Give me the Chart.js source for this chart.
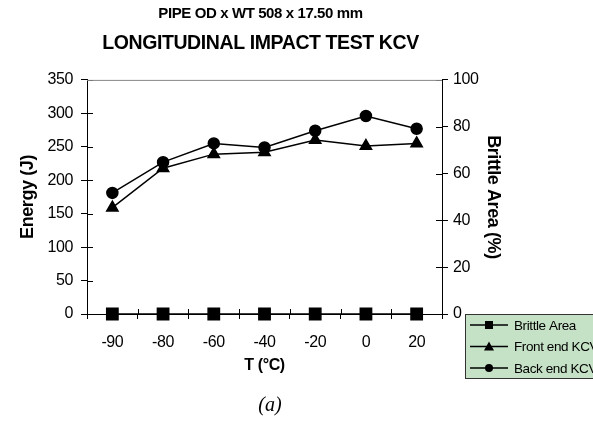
<!DOCTYPE html>
<html>
<head>
<meta charset="utf-8">
<script src="https://cdn.jsdelivr.net/npm/chart.js"></script>
<style>
  body { margin: 0; background: #fff; }
  #wrap { width: 593px; height: 421px; }
</style>
</head>
<body>
<div id="wrap"><canvas id="chart" width="593" height="421"></canvas></div>
<script>
var temps = ['-90', '-80', '-60', '-40', '-20', '0', '20'];
var brittleArea = [0, 0, 0, 0, 0, 0, 0];
var frontKCV = [159, 218, 239, 242, 260, 251, 255];
var backKCV = [181, 227, 255, 249, 274, 296, 277];

var titleTop = 'PIPE OD x WT 508 x 17.50 mm';
var titleMain = 'LONGITUDINAL IMPACT TEST KCV';
var caption = '(a)';

Chart.defaults.font.family = "'Liberation Sans', Arial, sans-serif";
Chart.defaults.color = '#000';

// tick marks that cross into the plot, a grey top border, the legend box and the caption
var extras = {
  id: 'extras',
  beforeDraw: function(chart) {
    // the original text is set a little tighter than Arial
    chart.ctx.letterSpacing = '-0.4px';
  },
  afterDraw: function(chart) {
    var ctx = chart.ctx;
    var a = chart.chartArea;
    var s = chart.scales;
    ctx.save();
    ctx.strokeStyle = '#000';
    ctx.lineWidth = 1;
    ctx.beginPath();
    s.y.ticks.forEach(function(t, i) {
      var py = Math.round(s.y.getPixelForTick(i)) + 0.5;
      ctx.moveTo(a.left, py); ctx.lineTo(a.left + 6, py);
    });
    s.y1.ticks.forEach(function(t, i) {
      var py = Math.round(s.y1.getPixelForTick(i)) + 0.5;
      ctx.moveTo(a.right - 6, py); ctx.lineTo(a.right, py);
    });
    for (var i = 0; i <= temps.length; i++) {
      var px = Math.round(a.left + (a.right - a.left) * i / temps.length) + 0.5;
      ctx.moveTo(px, a.bottom - 5); ctx.lineTo(px, a.bottom);
    }
    ctx.stroke();

    ctx.strokeStyle = '#888';
    ctx.beginPath();
    ctx.moveTo(a.left, a.top + 0.5); ctx.lineTo(a.right, a.top + 0.5);
    ctx.stroke();

    // legend
    var lx = 465.5, ly = 314.5;
    ctx.fillStyle = '#c6e2c6';
    ctx.fillRect(lx, ly, 140, 64);
    ctx.strokeStyle = '#333';
    ctx.strokeRect(lx, ly, 140, 64);
    chart.data.datasets.forEach(function(ds, k) {
      var yy = 325 + k * 21.5;
      ctx.strokeStyle = '#000';
      ctx.lineWidth = 1.5;
      ctx.beginPath();
      ctx.moveTo(470, yy); ctx.lineTo(508, yy);
      ctx.stroke();
      ctx.fillStyle = '#000';
      ctx.beginPath();
      if (ds.pointStyle === 'rect') {
        ctx.rect(485, yy - 4, 8, 8);
      } else if (ds.pointStyle === 'triangle') {
        ctx.moveTo(489, yy - 5); ctx.lineTo(494, yy + 4); ctx.lineTo(484, yy + 4); ctx.closePath();
      } else {
        ctx.arc(489, yy, 4, 0, Math.PI * 2);
      }
      ctx.fill();
      ctx.font = "13.5px 'Liberation Sans', Arial, sans-serif";
      ctx.textBaseline = 'middle';
      ctx.textAlign = 'left';
      ctx.fillText(ds.label, 514, yy + 1);
    });

    ctx.letterSpacing = '0px';
    ctx.font = "italic 20px 'Liberation Serif', 'Times New Roman', serif";
    ctx.textAlign = 'center';
    ctx.textBaseline = 'middle';
    ctx.fillText(caption, 270, 406);
    ctx.restore();
  }
};

var config = {
  type: 'line',
  data: {
    labels: temps,
    datasets: [{
      label: 'Brittle Area',
      data: brittleArea,
      yAxisID: 'y1',
      borderColor: '#000',
      backgroundColor: '#000',
      borderWidth: 1.5,
      pointStyle: 'rect',
      pointRadius: 8,
      clip: false
    }, {
      label: 'Front end KCV',
      data: frontKCV,
      yAxisID: 'y',
      borderColor: '#000',
      backgroundColor: '#000',
      borderWidth: 1.5,
      pointStyle: 'triangle',
      pointRadius: 6.5,
      clip: false
    }, {
      label: 'Back end KCV',
      data: backKCV,
      yAxisID: 'y',
      borderColor: '#000',
      backgroundColor: '#000',
      borderWidth: 1.5,
      pointStyle: 'circle',
      pointRadius: 5.5,
      clip: false
    }]
  },
  options: {
    responsive: false,
    animation: false,
    devicePixelRatio: 1,
    layout: { padding: { left: 17, right: 89, top: 0, bottom: 46 } },
    plugins: {
      legend: { display: false },
      tooltip: { enabled: false },
      title: {
        display: true,
        text: titleTop,
        font: { size: 15, weight: 'bold' },
        padding: { top: 5, bottom: 2 }
      },
      subtitle: {
        display: true,
        text: titleMain,
        color: '#000',
        font: { size: 19.5, weight: 'bold' },
        padding: { top: 7, bottom: 24.5 }
      }
    },
    scales: {
      x: {
        offset: true,
        grid: { offset: true, drawOnChartArea: false, color: '#000', tickLength: 5, tickColor: '#000' },
        border: { color: '#000', width: 1 },
        ticks: { font: { size: 16 }, padding: 14 },
        title: { display: true, text: 'T (°C)', font: { size: 16, weight: 'bold' }, padding: { top: 0, bottom: 0 } },
        afterFit: function(sc) { sc.height = 61; }
      },
      y: {
        position: 'left',
        min: 0, max: 350,
        ticks: { stepSize: 50, font: { size: 16 }, padding: 8 },
        grid: { drawOnChartArea: false, tickLength: 6, tickColor: '#000' },
        border: { color: '#000', width: 1 },
        title: { display: true, text: 'Energy (J)', font: { size: 18, weight: 'bold' }, padding: 0 },
        afterFit: function(sc) { sc.width = 70; }
      },
      y1: {
        position: 'right',
        min: 0, max: 100,
        ticks: { stepSize: 20, font: { size: 16 }, padding: 5 },
        grid: { drawOnChartArea: false, tickLength: 6, tickColor: '#000' },
        border: { color: '#000', width: 1 },
        title: { display: true, text: 'Brittle Area (%)', font: { size: 18, weight: 'bold' }, padding: 0 },
        afterFit: function(sc) { sc.width = 62; }
      }
    }
  },
  plugins: [extras]
};

window.onload = function() {
  var ctx = document.getElementById('chart').getContext('2d');
  window.myChart = new Chart(ctx, config);
};
</script>
</body>
</html>
